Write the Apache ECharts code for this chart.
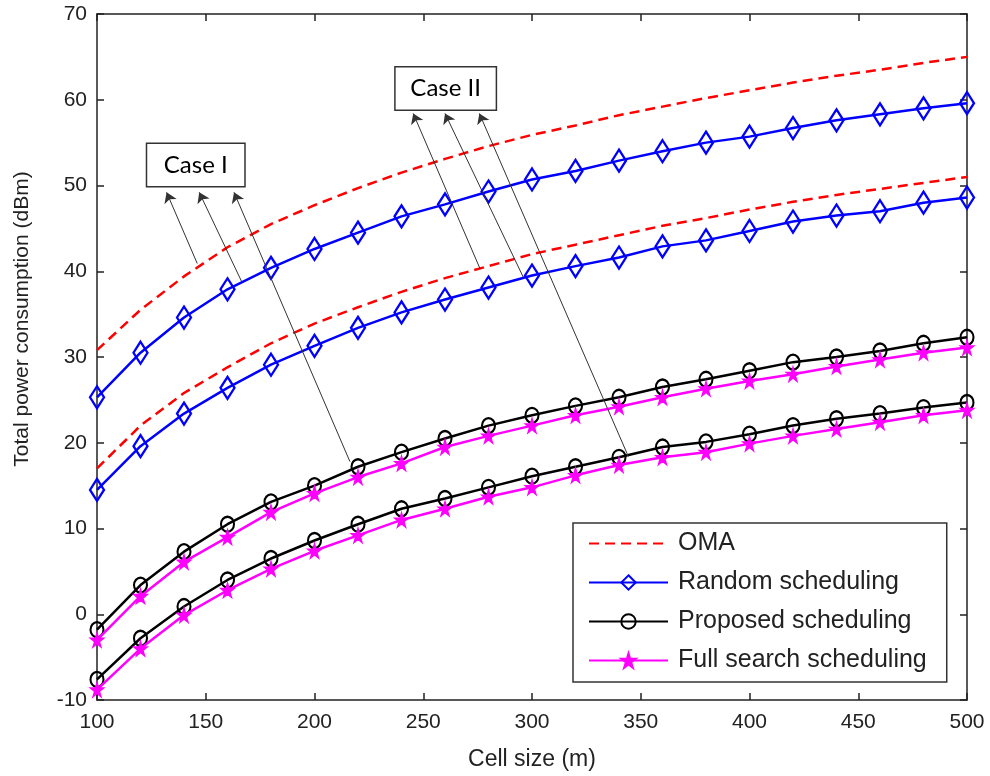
<!DOCTYPE html>
<html>
<head>
<meta charset="utf-8">
<script src="https://cdn.jsdelivr.net/npm/echarts@6/dist/echarts.min.js"></script>
<style>
html,body{margin:0;padding:0;background:#fff;}
#chart{width:990px;height:776px;}
</style>
</head>
<body>
<div id="chart"></div>
<script>
// ---- data ----
var cellSize = [100,120,140,160,180,200,220,240,260,280,300,320,340,360,380,400,420,440,460,480,500];
var xTicks = [100,150,200,250,300,350,400,450,500];
var yTicks = [-10,0,10,20,30,40,50,60,70];

var omaCaseI    = [30.8,35.5,39.4,42.8,45.5,47.7,49.7,51.5,53.1,54.6,55.9,57.0,58.2,59.2,60.2,61.1,62.0,62.8,63.5,64.3,65.0];
var omaCaseII   = [17.0,22.0,25.8,28.8,31.6,33.9,35.8,37.6,39.2,40.6,42.0,43.1,44.2,45.3,46.2,47.2,48.1,48.9,49.6,50.3,51.0];
var randomCaseI = [25.3,30.5,34.6,37.9,40.4,42.6,44.5,46.4,47.8,49.3,50.7,51.7,52.9,54.0,55.0,55.7,56.7,57.6,58.3,59.0,59.6];
var randomCaseII= [14.5,19.6,23.4,26.4,29.1,31.3,33.4,35.2,36.7,38.1,39.5,40.6,41.6,42.9,43.6,44.7,45.8,46.5,47.0,48.0,48.6];
var proposedCaseI = [-1.8,3.4,7.3,10.5,13.1,15.0,17.2,18.9,20.5,22.0,23.2,24.3,25.3,26.5,27.4,28.4,29.4,30.0,30.7,31.6,32.3];
var proposedCaseII= [-7.6,-2.8,0.9,4.0,6.5,8.6,10.5,12.3,13.5,14.8,16.1,17.2,18.3,19.5,20.1,21.0,22.0,22.8,23.4,24.1,24.7];
var fullCaseI  = [-3.0,2.1,6.1,9.0,11.9,14.1,16.0,17.6,19.5,20.8,22.0,23.2,24.2,25.3,26.3,27.2,28.0,28.9,29.7,30.5,31.1];
var fullCaseII = [-8.8,-4.0,-0.1,2.8,5.3,7.4,9.2,11.0,12.3,13.7,14.8,16.2,17.4,18.3,18.9,19.9,20.8,21.6,22.4,23.2,23.8];

var legendNames = ['OMA','Random scheduling','Proposed scheduling','Full search scheduling'];

// annotation boxes (data coords) and arrows [tail, head] (data coords)
var caseLabels = [{name:'Case I', coord:[145.4,52.4]}, {name:'Case II', coord:[260.3,61.3]}];
var caseArrows = [
  [[146.1,40.9],[132.0,49.2]],
  [[166.5,38.8],[147.0,49.2]],
  [[216.3,17.8],[163.0,49.2]],
  [[276.1,40.3],[245.4,58.4]],
  [[296.0,39.3],[260.0,58.4]],
  [[344.3,18.4],[275.8,58.4]]
];

function pairs(ys){ return cellSize.map(function(x,i){ return [x, ys[i]]; }); }

var FONT = '"Liberation Sans", Arial, sans-serif';
var starPath = 'path://M50,0 L61,35 L98,35 L68,57 L79,91 L50,70 L21,91 L32,57 L2,35 L39,35 Z';

function omaSeries(d){
  return {name:'OMA', type:'line', data:pairs(d), showSymbol:false, symbol:'none',
    lineStyle:{color:'#ff0000', width:2.5, type:[10,6]}, itemStyle:{color:'#ff0000'}, z:2, silent:true, animation:false};
}
function randomSeries(d){
  return {name:'Random scheduling', type:'line', data:pairs(d), symbol:'diamond', symbolSize:[14,22],
    lineStyle:{color:'#0000ff', width:2.5}, itemStyle:{color:'rgba(255,255,255,0)', borderColor:'#0000ff', borderWidth:2.4}, z:3, silent:true, animation:false};
}
function proposedSeries(d){
  return {name:'Proposed scheduling', type:'line', data:pairs(d), symbol:'circle', symbolSize:[13,15],
    lineStyle:{color:'#000000', width:2.5}, itemStyle:{color:'rgba(255,255,255,0)', borderColor:'#000000', borderWidth:2.2}, z:3, silent:true, animation:false};
}
function fullSeries(d){
  return {name:'Full search scheduling', type:'line', data:pairs(d), symbol:starPath, symbolSize:[13,14],
    lineStyle:{color:'#ff00ff', width:2.5}, itemStyle:{color:'#ff00ff', borderColor:'#ff00ff', borderWidth:1.5}, z:4, silent:true, animation:false};
}

var annot = {
  name:'annot', type:'line', data:[], silent:true, animation:false, z:6,
  markLine:{
    silent:true, animation:false, symbol:['none','arrow'], symbolSize:10,
    lineStyle:{color:'#333', width:1, type:'solid'}, label:{show:false}, emphasis:{disabled:true},
    data: caseArrows.map(function(a){ return [{coord:a[0]},{coord:a[1]}]; })
  },
  markPoint:{
    silent:true, animation:false, symbol:'rect', symbolSize:1, itemStyle:{color:'rgba(0,0,0,0)'},
    label:{show:true, position:'inside', formatter:'{b}', fontFamily:'Lato, "Open Sans", sans-serif', fontSize:24,
      color:'#000', backgroundColor:'#fff', borderColor:'#333', borderWidth:1.5, padding:[8,10,8,10], lineHeight:26, align:'center'},
    data: caseLabels.map(function(c, i){ return {name:c.name, coord:c.coord, label:{width: i === 0 ? 77 : 80}}; })
  }
};

var chart = echarts.init(document.getElementById('chart'), null, {renderer:'canvas'});
var axisLineStyle = {color:'#222', width:1.5};
chart.setOption({
  backgroundColor:'#fff',
  animation:false,
  grid:{left:97, right:23, top:14, bottom:76, containLabel:false},
  legend:{
    data:legendNames.map(function(n){
      return n === 'OMA' ? {name:n, itemStyle:{color:'rgba(0,0,0,0)', borderWidth:0}} : {name:n};
    }),
    orient:'vertical', left:573, top:523,
    padding:[8,20,9,15], itemGap:14, itemWidth:79, itemHeight:18,
    backgroundColor:'#fff', borderColor:'#333', borderWidth:1.5,
    textStyle:{fontFamily:FONT, fontSize:25, color:'#222', padding:[0,0,0,5]},
    selectedMode:false
  },
  xAxis:[
    {type:'value', min:100, max:500, interval:50, position:'bottom',
     name:'Cell size (m)', nameLocation:'middle', nameGap:48,
     nameTextStyle:{fontFamily:FONT, fontSize:23, color:'#222'},
     axisLine:{show:true, onZero:false, lineStyle:axisLineStyle},
     axisTick:{show:true, inside:true, length:7, lineStyle:axisLineStyle},
     axisLabel:{fontFamily:FONT, fontSize:21, color:'#222', margin:12,
       customValues:xTicks},
     splitLine:{show:false}},
    {type:'value', min:100, max:500, interval:50, position:'top',
     axisLine:{show:true, onZero:false, lineStyle:axisLineStyle},
     axisTick:{show:true, inside:true, length:7, lineStyle:axisLineStyle},
     axisLabel:{show:false}, splitLine:{show:false}}
  ],
  yAxis:[
    {type:'value', min:-10, max:70, interval:10, position:'left',
     name:'Total power consumption (dBm)', nameLocation:'middle', nameGap:64,
     nameTextStyle:{fontFamily:FONT, fontSize:21, color:'#222', padding:[0,0,0,76]},
     axisLine:{show:true, onZero:false, lineStyle:axisLineStyle},
     axisTick:{show:true, inside:true, length:7, lineStyle:axisLineStyle},
     axisLabel:{fontFamily:FONT, fontSize:21, color:'#222', margin:10, customValues:yTicks},
     splitLine:{show:false}},
    {type:'value', min:-10, max:70, interval:10, position:'right',
     axisLine:{show:true, onZero:false, lineStyle:axisLineStyle},
     axisTick:{show:true, inside:true, length:7, lineStyle:axisLineStyle},
     axisLabel:{show:false}, splitLine:{show:false}}
  ],
  series:[
    omaSeries(omaCaseI), omaSeries(omaCaseII),
    randomSeries(randomCaseI), randomSeries(randomCaseII),
    proposedSeries(proposedCaseI), proposedSeries(proposedCaseII),
    fullSeries(fullCaseI), fullSeries(fullCaseII),
    annot
  ]
});
</script>
</body>
</html>
